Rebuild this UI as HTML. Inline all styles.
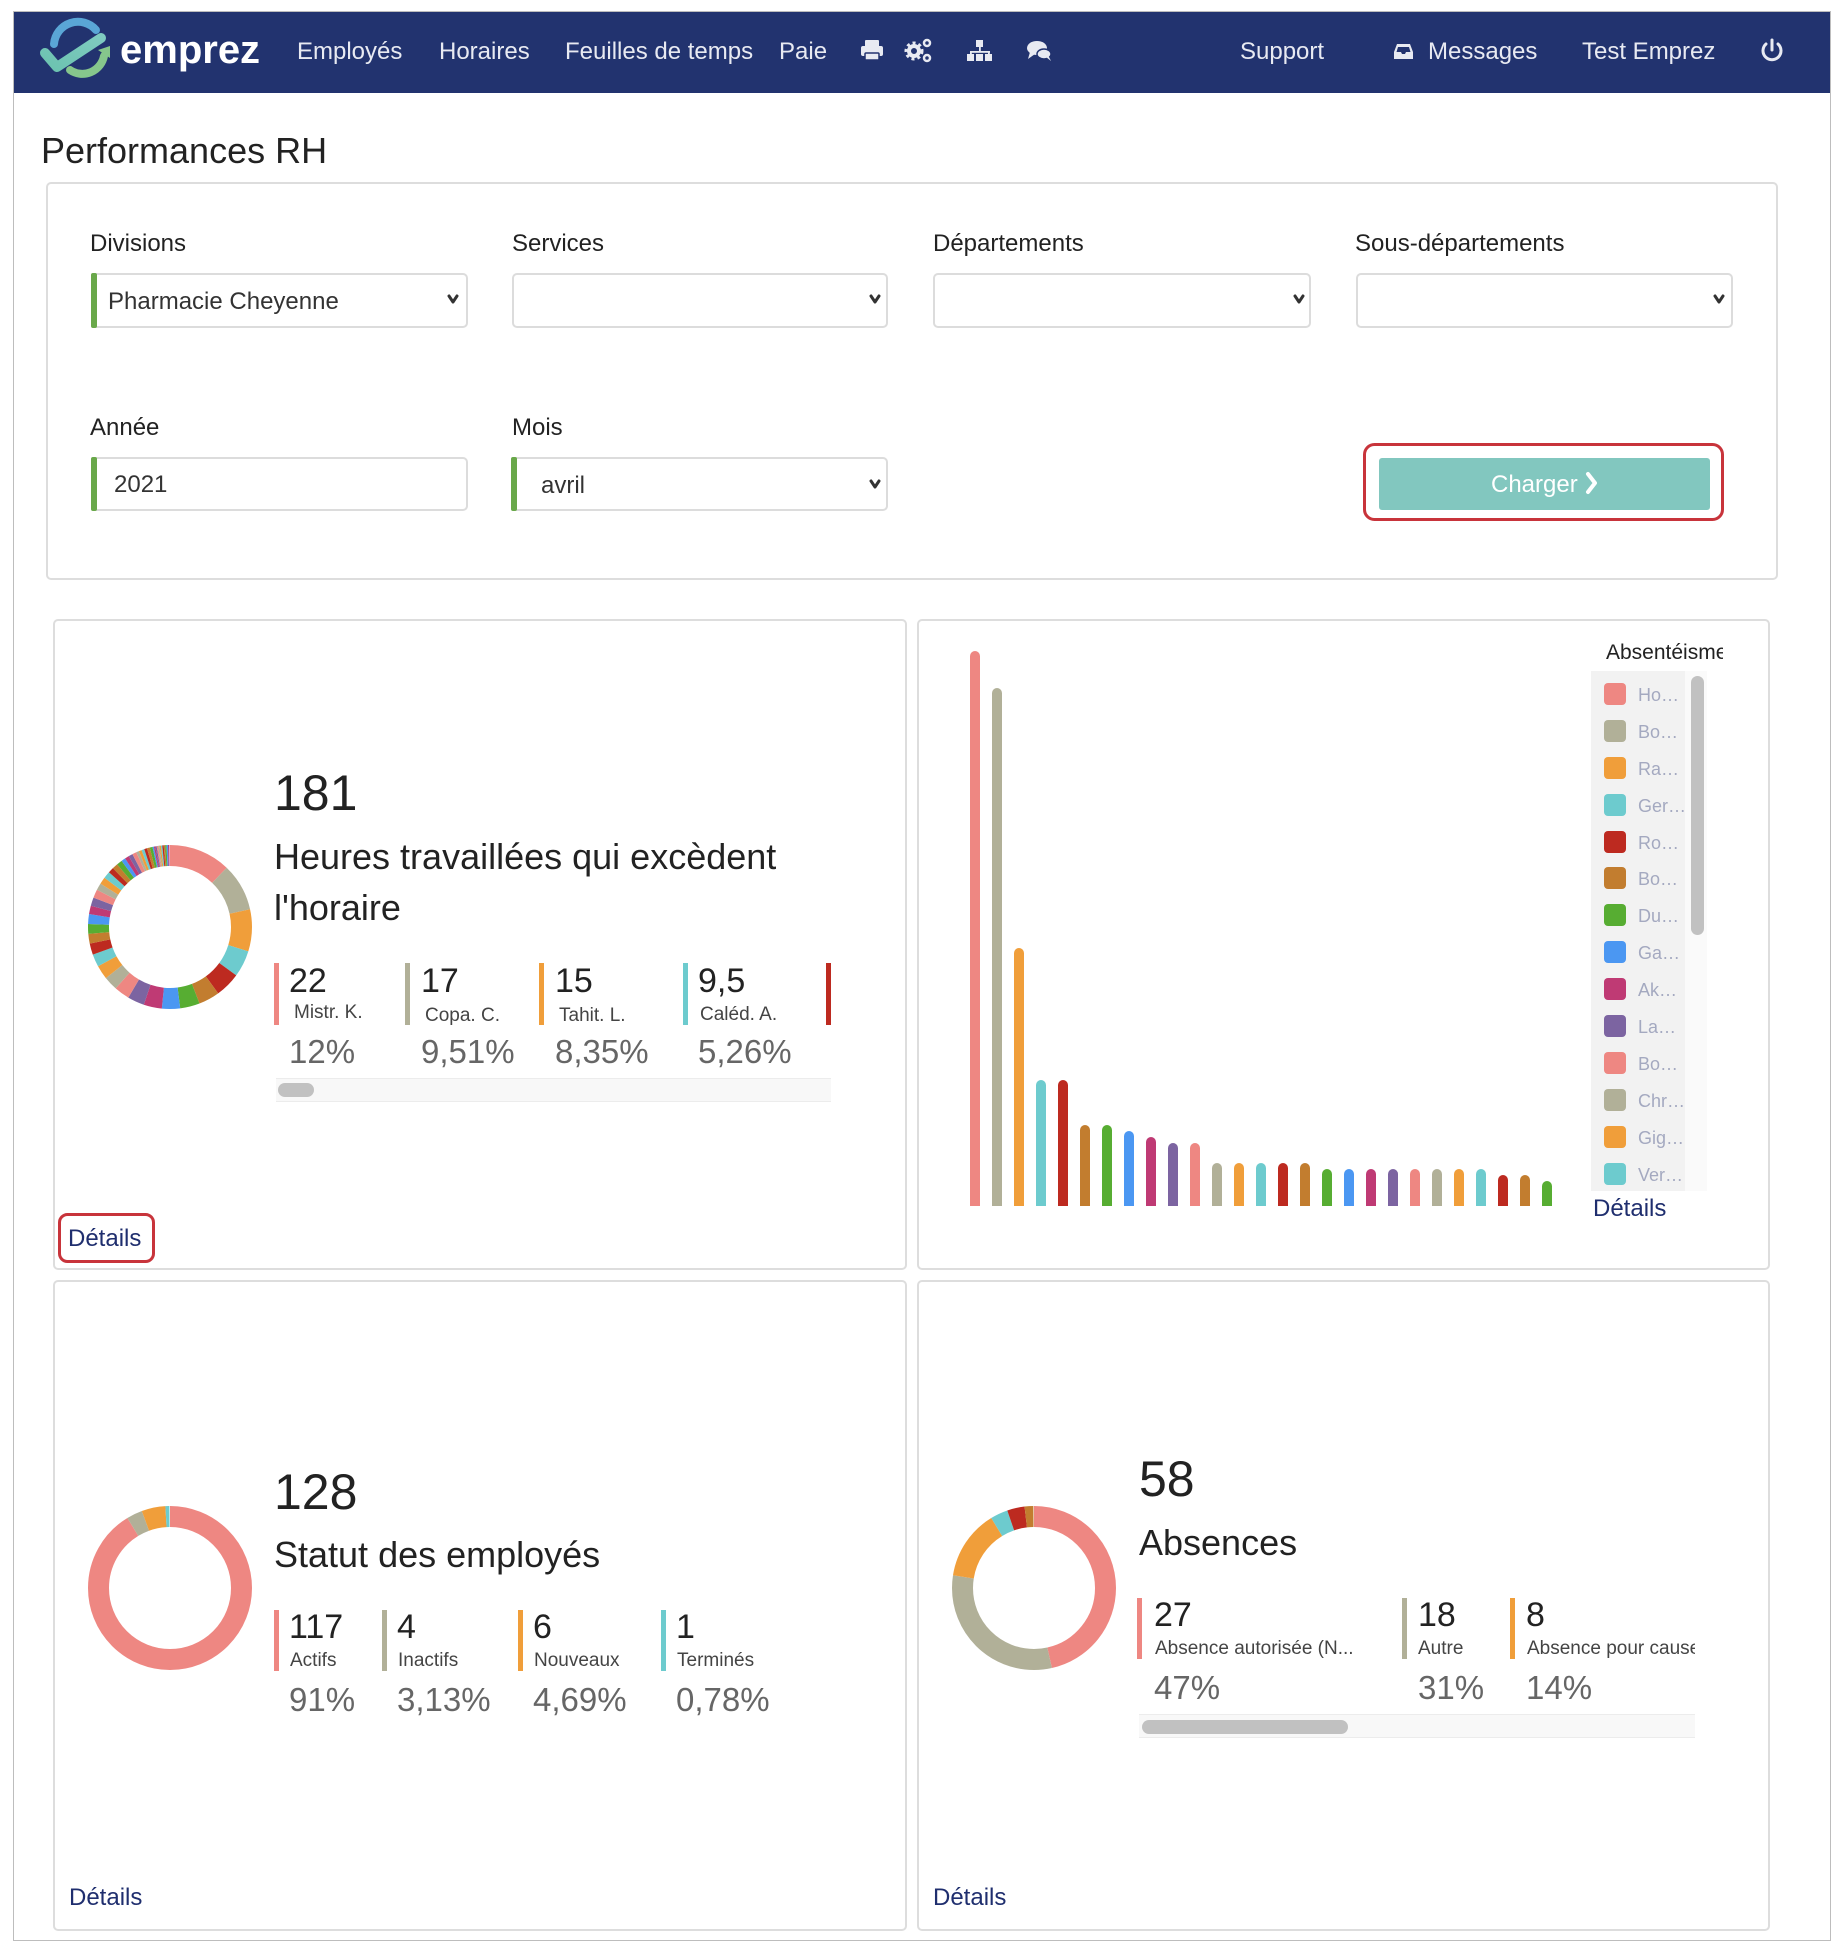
<!DOCTYPE html>
<html lang="fr">
<head>
<meta charset="utf-8">
<title>Performances RH</title>
<style>
  html,body{margin:0;padding:0;background:#fff;}
  body{width:1846px;height:1952px;overflow:hidden;}
  svg{display:block;}
  text{font-family:"Liberation Sans",Arial,sans-serif;}
</style>
</head>
<body>
<svg width="1846" height="1952" viewBox="0 0 1846 1952" xmlns="http://www.w3.org/2000/svg">
  <defs>
    <clipPath id="barsClip"><rect x="960" y="600" width="620" height="606"/></clipPath>
    <clipPath id="legTitleClip"><rect x="1590" y="630" width="133" height="40"/></clipPath>
    <clipPath id="legBoxClip"><rect x="1591" y="671" width="94" height="520"/></clipPath>
    <clipPath id="absClip"><rect x="1130" y="1590" width="565" height="130"/></clipPath>
    <linearGradient id="chk" x1="0" y1="1" x2="1" y2="0">
      <stop offset="0" stop-color="#6cc3b0"/>
      <stop offset="1" stop-color="#7fcbc0"/>
    </linearGradient>
  </defs>

  <!-- page frame -->
  <rect x="13.5" y="11.5" width="1817" height="1929" fill="#fff" stroke="#bdbdbd" stroke-width="1"/>

  <!-- NAVBAR -->
  <rect x="14" y="12" width="1816" height="81" fill="#22336f"/>
  <!-- logo -->
  <path d="M54 44 A 24 24 0 0 1 96 30" fill="none" stroke="#5aa6d6" stroke-width="8" stroke-linecap="round"/>
  <path d="M70 70 A 22 22 0 0 0 104 56" fill="none" stroke="#86c68c" stroke-width="8" stroke-linecap="round"/>
  <polygon points="98,50 110,46 110,58" fill="#86c68c"/>
  <path d="M45 53 L57 67 L101 38" fill="none" stroke="url(#chk)" stroke-width="10" stroke-linecap="round" stroke-linejoin="round"/>
  <text x="120" y="63" font-size="40" font-weight="bold" fill="#ffffff">emprez</text>

  <g fill="#e8eaf2" font-size="24">
    <text x="297" y="59">Employés</text>
    <text x="439" y="59">Horaires</text>
    <text x="565" y="59">Feuilles de temps</text>
    <text x="779" y="59">Paie</text>
    <text x="1240" y="59">Support</text>
    <text x="1428" y="59">Messages</text>
    <text x="1582" y="59">Test Emprez</text>
  </g>
  <!-- printer -->
  <g fill="#e8eaf2">
    <rect x="865" y="40" width="14" height="7" rx="1"/>
    <rect x="861" y="46" width="22" height="10" rx="2"/>
    <rect x="865" y="53" width="14" height="7" rx="1" fill="#e8eaf2" stroke="#22336f" stroke-width="1.5"/>
  </g>
  <!-- gears -->
  <g fill="none" stroke="#e8eaf2">
    <circle cx="914" cy="51" r="5" stroke-width="4"/>
    <circle cx="914" cy="51" r="8" stroke-width="3" stroke-dasharray="3 3"/>
    <circle cx="927" cy="43" r="3" stroke-width="2.5"/>
    <circle cx="927" cy="58" r="3" stroke-width="2.5"/>
  </g>
  <!-- sitemap -->
  <g fill="#e8eaf2">
    <rect x="976" y="40" width="7" height="7"/>
    <rect x="979" y="47" width="1.8" height="5"/>
    <rect x="970" y="51" width="20" height="1.8"/>
    <rect x="970" y="51" width="1.8" height="4"/>
    <rect x="988" y="51" width="1.8" height="4"/>
    <rect x="967" y="54" width="7" height="7"/>
    <rect x="976" y="54" width="7" height="7"/>
    <rect x="985" y="54" width="7" height="7"/>
  </g>
  <!-- comments -->
  <g fill="#e8eaf2">
    <ellipse cx="1037" cy="48" rx="10" ry="7"/>
    <polygon points="1030,52 1028,59 1035,54"/>
    <ellipse cx="1044" cy="54" rx="7" ry="5" stroke="#22336f" stroke-width="1.5"/>
    <polygon points="1046,57 1051,61 1048,55"/>
  </g>
  <!-- inbox -->
  <g>
    <path d="M1397 44 L1410 44 L1413 52 L1413 59 L1394 59 L1394 52 Z" fill="#e8eaf2"/>
    <path d="M1398 47 L1409 47 L1410.5 52 L1406 52 L1405 54 L1402 54 L1401 52 L1396.5 52 Z" fill="#22336f"/>
  </g>
  <!-- power -->
  <path d="M1766 44 A 9 9 0 1 0 1778 44" fill="none" stroke="#e8eaf2" stroke-width="3" stroke-linecap="round"/>
  <line x1="1772" y1="40" x2="1772" y2="50" stroke="#e8eaf2" stroke-width="3" stroke-linecap="round"/>

  <!-- TITLE -->
  <text x="41" y="163" font-size="36" fill="#222">Performances RH</text>

  <!-- FILTER PANEL -->
  <rect x="47" y="183" width="1730" height="396" rx="4" fill="#fff" stroke="#dddddd" stroke-width="2"/>
  <g font-size="24" fill="#222">
    <text x="90" y="251">Divisions</text>
    <text x="512" y="251">Services</text>
    <text x="933" y="251">Départements</text>
    <text x="1355" y="251">Sous-départements</text>
    <text x="90" y="435">Année</text>
    <text x="512" y="435">Mois</text>
  </g>
  <g fill="#fff" stroke="#dcdcdc" stroke-width="2">
    <rect x="93" y="274" width="374" height="53" rx="4"/>
    <rect x="513" y="274" width="374" height="53" rx="4"/>
    <rect x="934" y="274" width="376" height="53" rx="4"/>
    <rect x="1357" y="274" width="375" height="53" rx="4"/>
    <rect x="93" y="458" width="374" height="52" rx="4"/>
    <rect x="513" y="458" width="374" height="52" rx="4"/>
  </g>
  <g fill="#69a84a">
    <rect x="91" y="273" width="6" height="55" rx="2"/>
    <rect x="91" y="457" width="6" height="54" rx="2"/>
    <rect x="511" y="457" width="6" height="54" rx="2"/>
  </g>
  <g font-size="24" fill="#333">
    <text x="108" y="309">Pharmacie Cheyenne</text>
    <text x="114" y="492">2021</text>
    <text x="541" y="493">avril</text>
  </g>
  <g fill="none" stroke="#333" stroke-width="3" stroke-linecap="round" stroke-linejoin="round">
    <path d="M449 296 L453 302 L457 296"/>
    <path d="M871 296 L875 302 L879 296"/>
    <path d="M1295 296 L1299 302 L1303 296"/>
    <path d="M1715 296 L1719 302 L1723 296"/>
    <path d="M871 481 L875 487 L879 481"/>
  </g>
  <!-- Charger -->
  <rect x="1364.5" y="444.5" width="358" height="75" rx="10" fill="#fff" stroke="#c8343b" stroke-width="3"/>
  <rect x="1379" y="458" width="331" height="52" rx="3" fill="#82c7bf"/>
  <text x="1491" y="492" font-size="24" fill="#fff">Charger</text>
  <path d="M1588 474 L1595 483 L1588 492" fill="none" stroke="#fff" stroke-width="4" stroke-linecap="round" stroke-linejoin="round"/>

  <!-- CARDS -->
  <g fill="#fff" stroke="#dddddd" stroke-width="2">
    <rect x="54" y="620" width="852" height="649" rx="4"/>
    <rect x="918" y="620" width="851" height="649" rx="4"/>
    <rect x="54" y="1281" width="852" height="649" rx="4"/>
    <rect x="918" y="1281" width="851" height="649" rx="4"/>
  </g>

  <!-- CARD 1 donut -->
  <g transform="rotate(-90 170 927)" fill="none" stroke-width="21">
    <circle cx="170" cy="927" r="71.5" pathLength="181" stroke="#ee8782" stroke-dasharray="22 181" stroke-dashoffset="0"/>
    <circle cx="170" cy="927" r="71.5" pathLength="181" stroke="#b1b098" stroke-dasharray="17 181" stroke-dashoffset="-22"/>
    <circle cx="170" cy="927" r="71.5" pathLength="181" stroke="#f09e3a" stroke-dasharray="15 181" stroke-dashoffset="-39"/>
    <circle cx="170" cy="927" r="71.5" pathLength="181" stroke="#6dcbce" stroke-dasharray="9.5 181" stroke-dashoffset="-54"/>
    <circle cx="170" cy="927" r="71.5" pathLength="181" stroke="#bd2a20" stroke-dasharray="9 181" stroke-dashoffset="-63.5"/>
    <circle cx="170" cy="927" r="71.5" pathLength="181" stroke="#c27d2f" stroke-dasharray="7.5 181" stroke-dashoffset="-72.5"/>
    <circle cx="170" cy="927" r="71.5" pathLength="181" stroke="#57ad32" stroke-dasharray="7 181" stroke-dashoffset="-80"/>
    <circle cx="170" cy="927" r="71.5" pathLength="181" stroke="#4b97f2" stroke-dasharray="6.5 181" stroke-dashoffset="-87"/>
    <circle cx="170" cy="927" r="71.5" pathLength="181" stroke="#bf3a74" stroke-dasharray="6.5 181" stroke-dashoffset="-93.5"/>
    <circle cx="170" cy="927" r="71.5" pathLength="181" stroke="#7c64a1" stroke-dasharray="6 181" stroke-dashoffset="-100"/>
    <circle cx="170" cy="927" r="71.5" pathLength="181" stroke="#ee8782" stroke-dasharray="5.5 181" stroke-dashoffset="-106"/>
    <circle cx="170" cy="927" r="71.5" pathLength="181" stroke="#b1b098" stroke-dasharray="5 181" stroke-dashoffset="-111.5"/>
    <circle cx="170" cy="927" r="71.5" pathLength="181" stroke="#f09e3a" stroke-dasharray="5 181" stroke-dashoffset="-116.5"/>
    <circle cx="170" cy="927" r="71.5" pathLength="181" stroke="#6dcbce" stroke-dasharray="4.5 181" stroke-dashoffset="-121.5"/>
    <circle cx="170" cy="927" r="71.5" pathLength="181" stroke="#bd2a20" stroke-dasharray="4 181" stroke-dashoffset="-126"/>
    <circle cx="170" cy="927" r="71.5" pathLength="181" stroke="#c27d2f" stroke-dasharray="3.5 181" stroke-dashoffset="-130"/>
    <circle cx="170" cy="927" r="71.5" pathLength="181" stroke="#57ad32" stroke-dasharray="3.5 181" stroke-dashoffset="-133.5"/>
    <circle cx="170" cy="927" r="71.5" pathLength="181" stroke="#4b97f2" stroke-dasharray="3.5 181" stroke-dashoffset="-137"/>
    <circle cx="170" cy="927" r="71.5" pathLength="181" stroke="#bf3a74" stroke-dasharray="3 181" stroke-dashoffset="-140.5"/>
    <circle cx="170" cy="927" r="71.5" pathLength="181" stroke="#7c64a1" stroke-dasharray="3 181" stroke-dashoffset="-143.5"/>
    <circle cx="170" cy="927" r="71.5" pathLength="181" stroke="#ee8782" stroke-dasharray="3 181" stroke-dashoffset="-146.5"/>
    <circle cx="170" cy="927" r="71.5" pathLength="181" stroke="#b1b098" stroke-dasharray="2.5 181" stroke-dashoffset="-149.5"/>
    <circle cx="170" cy="927" r="71.5" pathLength="181" stroke="#f09e3a" stroke-dasharray="2.5 181" stroke-dashoffset="-152"/>
    <circle cx="170" cy="927" r="71.5" pathLength="181" stroke="#6dcbce" stroke-dasharray="2.5 181" stroke-dashoffset="-154.5"/>
    <circle cx="170" cy="927" r="71.5" pathLength="181" stroke="#bd2a20" stroke-dasharray="2 181" stroke-dashoffset="-157"/>
    <circle cx="170" cy="927" r="71.5" pathLength="181" stroke="#c27d2f" stroke-dasharray="2 181" stroke-dashoffset="-159"/>
    <circle cx="170" cy="927" r="71.5" pathLength="181" stroke="#57ad32" stroke-dasharray="2 181" stroke-dashoffset="-161"/>
    <circle cx="170" cy="927" r="71.5" pathLength="181" stroke="#4b97f2" stroke-dasharray="1.5 181" stroke-dashoffset="-163"/>
    <circle cx="170" cy="927" r="71.5" pathLength="181" stroke="#bf3a74" stroke-dasharray="1.5 181" stroke-dashoffset="-164.5"/>
    <circle cx="170" cy="927" r="71.5" pathLength="181" stroke="#7c64a1" stroke-dasharray="1.5 181" stroke-dashoffset="-166"/>
    <circle cx="170" cy="927" r="71.5" pathLength="181" stroke="#ee8782" stroke-dasharray="1.5 181" stroke-dashoffset="-167.5"/>
    <circle cx="170" cy="927" r="71.5" pathLength="181" stroke="#b1b098" stroke-dasharray="1 181" stroke-dashoffset="-169"/>
    <circle cx="170" cy="927" r="71.5" pathLength="181" stroke="#f09e3a" stroke-dasharray="1 181" stroke-dashoffset="-170"/>
    <circle cx="170" cy="927" r="71.5" pathLength="181" stroke="#6dcbce" stroke-dasharray="1 181" stroke-dashoffset="-171"/>
    <circle cx="170" cy="927" r="71.5" pathLength="181" stroke="#bd2a20" stroke-dasharray="1 181" stroke-dashoffset="-172"/>
    <circle cx="170" cy="927" r="71.5" pathLength="181" stroke="#c27d2f" stroke-dasharray="1 181" stroke-dashoffset="-173"/>
    <circle cx="170" cy="927" r="71.5" pathLength="181" stroke="#57ad32" stroke-dasharray="1 181" stroke-dashoffset="-174"/>
    <circle cx="170" cy="927" r="71.5" pathLength="181" stroke="#4b97f2" stroke-dasharray="0.5 181" stroke-dashoffset="-175"/>
    <circle cx="170" cy="927" r="71.5" pathLength="181" stroke="#bf3a74" stroke-dasharray="0.5 181" stroke-dashoffset="-175.5"/>
    <circle cx="170" cy="927" r="71.5" pathLength="181" stroke="#7c64a1" stroke-dasharray="0.5 181" stroke-dashoffset="-176"/>
    <circle cx="170" cy="927" r="71.5" pathLength="181" stroke="#ee8782" stroke-dasharray="0.5 181" stroke-dashoffset="-176.5"/>
    <circle cx="170" cy="927" r="71.5" pathLength="181" stroke="#b1b098" stroke-dasharray="0.5 181" stroke-dashoffset="-177"/>
    <circle cx="170" cy="927" r="71.5" pathLength="181" stroke="#f09e3a" stroke-dasharray="0.5 181" stroke-dashoffset="-177.5"/>
    <circle cx="170" cy="927" r="71.5" pathLength="181" stroke="#6dcbce" stroke-dasharray="0.5 181" stroke-dashoffset="-178"/>
    <circle cx="170" cy="927" r="71.5" pathLength="181" stroke="#bd2a20" stroke-dasharray="0.5 181" stroke-dashoffset="-178.5"/>
    <circle cx="170" cy="927" r="71.5" pathLength="181" stroke="#c27d2f" stroke-dasharray="0.5 181" stroke-dashoffset="-179"/>
    <circle cx="170" cy="927" r="71.5" pathLength="181" stroke="#57ad32" stroke-dasharray="0.5 181" stroke-dashoffset="-179.5"/>
    <circle cx="170" cy="927" r="71.5" pathLength="181" stroke="#4b97f2" stroke-dasharray="0.5 181" stroke-dashoffset="-180"/>
    <circle cx="170" cy="927" r="71.5" pathLength="181" stroke="#bf3a74" stroke-dasharray="0.5 181" stroke-dashoffset="-180.5"/>
  </g>
  <text x="274" y="810" font-size="50" fill="#222">181</text>
  <text x="274" y="869" font-size="36" fill="#222">Heures travaillées qui excèdent</text>
  <text x="274" y="920" font-size="36" fill="#222">l'horaire</text>
  <g>
    <rect x="274" y="963" width="5" height="62" fill="#ee8782"/>
    <rect x="405" y="963" width="5" height="62" fill="#b1b098"/>
    <rect x="539" y="963" width="5" height="62" fill="#f09e3a"/>
    <rect x="683" y="963" width="5" height="62" fill="#6dcbce"/>
    <rect x="826" y="963" width="5" height="62" fill="#bd2a20"/>
  </g>
  <g font-size="34" fill="#222">
    <text x="289" y="992">22</text>
    <text x="421" y="992">17</text>
    <text x="555" y="992">15</text>
    <text x="698" y="992">9,5</text>
  </g>
  <g font-size="19" fill="#444">
    <text x="294" y="1018">Mistr. K.</text>
    <text x="425" y="1021">Copa. C.</text>
    <text x="559" y="1021">Tahit. L.</text>
    <text x="700" y="1020">Caléd. A.</text>
  </g>
  <g font-size="33" fill="#666">
    <text x="289" y="1063">12%</text>
    <text x="421" y="1063">9,51%</text>
    <text x="555" y="1063">8,35%</text>
    <text x="698" y="1063">5,26%</text>
  </g>
  <rect x="276" y="1078" width="555" height="24" fill="#f8f8f8"/>
  <line x1="276" y1="1078.5" x2="831" y2="1078.5" stroke="#ececec"/>
  <line x1="276" y1="1101.5" x2="831" y2="1101.5" stroke="#ececec"/>
  <rect x="278" y="1083" width="36" height="14" rx="7" fill="#c1c1c1"/>
  <rect x="59.5" y="1214.5" width="94" height="47" rx="8" fill="#fff" stroke="#c8343b" stroke-width="3"/>
  <text x="68" y="1246" font-size="24" fill="#1f2e6e">Détails</text>

  <!-- CARD 2 bar chart -->
  <g clip-path="url(#barsClip)">
    <rect x="970" y="651" width="10" height="565" rx="5" fill="#ee8782"/>
    <rect x="992" y="688" width="10" height="528" rx="5" fill="#b1b098"/>
    <rect x="1014" y="948" width="10" height="268" rx="5" fill="#f09e3a"/>
    <rect x="1036" y="1080" width="10" height="136" rx="5" fill="#6dcbce"/>
    <rect x="1058" y="1080" width="10" height="136" rx="5" fill="#bd2a20"/>
    <rect x="1080" y="1125" width="10" height="91" rx="5" fill="#c27d2f"/>
    <rect x="1102" y="1125" width="10" height="91" rx="5" fill="#57ad32"/>
    <rect x="1124" y="1131" width="10" height="85" rx="5" fill="#4b97f2"/>
    <rect x="1146" y="1137" width="10" height="79" rx="5" fill="#bf3a74"/>
    <rect x="1168" y="1143" width="10" height="73" rx="5" fill="#7c64a1"/>
    <rect x="1190" y="1143" width="10" height="73" rx="5" fill="#ee8782"/>
    <rect x="1212" y="1163" width="10" height="53" rx="5" fill="#b1b098"/>
    <rect x="1234" y="1163" width="10" height="53" rx="5" fill="#f09e3a"/>
    <rect x="1256" y="1163" width="10" height="53" rx="5" fill="#6dcbce"/>
    <rect x="1278" y="1163" width="10" height="53" rx="5" fill="#bd2a20"/>
    <rect x="1300" y="1163" width="10" height="53" rx="5" fill="#c27d2f"/>
    <rect x="1322" y="1169" width="10" height="47" rx="5" fill="#57ad32"/>
    <rect x="1344" y="1169" width="10" height="47" rx="5" fill="#4b97f2"/>
    <rect x="1366" y="1169" width="10" height="47" rx="5" fill="#bf3a74"/>
    <rect x="1388" y="1169" width="10" height="47" rx="5" fill="#7c64a1"/>
    <rect x="1410" y="1169" width="10" height="47" rx="5" fill="#ee8782"/>
    <rect x="1432" y="1169" width="10" height="47" rx="5" fill="#b1b098"/>
    <rect x="1454" y="1169" width="10" height="47" rx="5" fill="#f09e3a"/>
    <rect x="1476" y="1169" width="10" height="47" rx="5" fill="#6dcbce"/>
    <rect x="1498" y="1175" width="10" height="41" rx="5" fill="#bd2a20"/>
    <rect x="1520" y="1175" width="10" height="41" rx="5" fill="#c27d2f"/>
    <rect x="1542" y="1181" width="10" height="35" rx="5" fill="#57ad32"/>
  </g>
  <!-- legend -->
  <text x="1606" y="659" font-size="21" fill="#222" clip-path="url(#legTitleClip)">Absentéisme</text>
  <rect x="1591" y="671" width="94" height="520" fill="#f2f2f2"/>
  <rect x="1685" y="671" width="22" height="520" fill="#fafafa"/>
  <rect x="1691" y="676" width="13" height="259" rx="6.5" fill="#c1c1c1"/>
  <g clip-path="url(#legBoxClip)">
    <rect x="1604" y="683" width="22" height="22" rx="4" fill="#ee8782"/>
    <rect x="1604" y="720" width="22" height="22" rx="4" fill="#b1b098"/>
    <rect x="1604" y="757" width="22" height="22" rx="4" fill="#f09e3a"/>
    <rect x="1604" y="794" width="22" height="22" rx="4" fill="#6dcbce"/>
    <rect x="1604" y="831" width="22" height="22" rx="4" fill="#bd2a20"/>
    <rect x="1604" y="867" width="22" height="22" rx="4" fill="#c27d2f"/>
    <rect x="1604" y="904" width="22" height="22" rx="4" fill="#57ad32"/>
    <rect x="1604" y="941" width="22" height="22" rx="4" fill="#4b97f2"/>
    <rect x="1604" y="978" width="22" height="22" rx="4" fill="#bf3a74"/>
    <rect x="1604" y="1015" width="22" height="22" rx="4" fill="#7c64a1"/>
    <rect x="1604" y="1052" width="22" height="22" rx="4" fill="#ee8782"/>
    <rect x="1604" y="1089" width="22" height="22" rx="4" fill="#b1b098"/>
    <rect x="1604" y="1126" width="22" height="22" rx="4" fill="#f09e3a"/>
    <rect x="1604" y="1163" width="22" height="22" rx="4" fill="#6dcbce"/>
    <g font-size="18" fill="#a4a9c0">
      <text x="1638" y="701">Ho…</text>
      <text x="1638" y="738">Bo…</text>
      <text x="1638" y="775">Ra…</text>
      <text x="1638" y="812">Ger…</text>
      <text x="1638" y="849">Ro…</text>
      <text x="1638" y="885">Bo…</text>
      <text x="1638" y="922">Du…</text>
      <text x="1638" y="959">Ga…</text>
      <text x="1638" y="996">Ak…</text>
      <text x="1638" y="1033">La…</text>
      <text x="1638" y="1070">Bo…</text>
      <text x="1638" y="1107">Chr…</text>
      <text x="1638" y="1144">Gig…</text>
      <text x="1638" y="1181">Ver…</text>
    </g>
  </g>
  <text x="1593" y="1216" font-size="24" fill="#1f2e6e">Détails</text>

  <!-- CARD 3 donut -->
  <g transform="rotate(-90 170 1588)" fill="none" stroke-width="21">
    <circle cx="170" cy="1588" r="71.5" pathLength="128" stroke="#ee8782" stroke-dasharray="117 128" stroke-dashoffset="0"/>
    <circle cx="170" cy="1588" r="71.5" pathLength="128" stroke="#b1b098" stroke-dasharray="4 128" stroke-dashoffset="-117"/>
    <circle cx="170" cy="1588" r="71.5" pathLength="128" stroke="#f09e3a" stroke-dasharray="6 128" stroke-dashoffset="-121"/>
    <circle cx="170" cy="1588" r="71.5" pathLength="128" stroke="#6dcbce" stroke-dasharray="1 128" stroke-dashoffset="-127"/>
  </g>
  <text x="274" y="1509" font-size="50" fill="#222">128</text>
  <text x="274" y="1567" font-size="36" fill="#222">Statut des employés</text>
  <g>
    <rect x="274" y="1610" width="5" height="61" fill="#ee8782"/>
    <rect x="382" y="1610" width="5" height="61" fill="#b1b098"/>
    <rect x="518" y="1610" width="5" height="61" fill="#f09e3a"/>
    <rect x="661" y="1610" width="5" height="61" fill="#6dcbce"/>
  </g>
  <g font-size="34" fill="#222">
    <text x="289" y="1638">117</text>
    <text x="397" y="1638">4</text>
    <text x="533" y="1638">6</text>
    <text x="676" y="1638">1</text>
  </g>
  <g font-size="19" fill="#444">
    <text x="290" y="1666">Actifs</text>
    <text x="398" y="1666">Inactifs</text>
    <text x="534" y="1666">Nouveaux</text>
    <text x="677" y="1666">Terminés</text>
  </g>
  <g font-size="33" fill="#666">
    <text x="289" y="1711">91%</text>
    <text x="397" y="1711">3,13%</text>
    <text x="533" y="1711">4,69%</text>
    <text x="676" y="1711">0,78%</text>
  </g>
  <text x="69" y="1905" font-size="24" fill="#1f2e6e">Détails</text>

  <!-- CARD 4 donut -->
  <g transform="rotate(-90 1034 1588)" fill="none" stroke-width="21">
    <circle cx="1034" cy="1588" r="71.5" pathLength="58" stroke="#ee8782" stroke-dasharray="27 58" stroke-dashoffset="0"/>
    <circle cx="1034" cy="1588" r="71.5" pathLength="58" stroke="#b1b098" stroke-dasharray="18 58" stroke-dashoffset="-27"/>
    <circle cx="1034" cy="1588" r="71.5" pathLength="58" stroke="#f09e3a" stroke-dasharray="8 58" stroke-dashoffset="-45"/>
    <circle cx="1034" cy="1588" r="71.5" pathLength="58" stroke="#6dcbce" stroke-dasharray="2 58" stroke-dashoffset="-53"/>
    <circle cx="1034" cy="1588" r="71.5" pathLength="58" stroke="#bd2a20" stroke-dasharray="2 58" stroke-dashoffset="-55"/>
    <circle cx="1034" cy="1588" r="71.5" pathLength="58" stroke="#c27d2f" stroke-dasharray="1 58" stroke-dashoffset="-57"/>
  </g>
  <text x="1139" y="1496" font-size="50" fill="#222">58</text>
  <text x="1139" y="1555" font-size="36" fill="#222">Absences</text>
  <g clip-path="url(#absClip)">
    <rect x="1137" y="1598" width="5" height="61" fill="#ee8782"/>
    <rect x="1402" y="1598" width="5" height="61" fill="#b1b098"/>
    <rect x="1510" y="1598" width="5" height="61" fill="#f09e3a"/>
    <g font-size="34" fill="#222">
      <text x="1154" y="1626">27</text>
      <text x="1418" y="1626">18</text>
      <text x="1526" y="1626">8</text>
    </g>
    <g font-size="19" fill="#444">
      <text x="1155" y="1654">Absence autorisée (N...</text>
      <text x="1418" y="1654">Autre</text>
      <text x="1527" y="1654">Absence pour cause</text>
    </g>
    <g font-size="33" fill="#666">
      <text x="1154" y="1699">47%</text>
      <text x="1418" y="1699">31%</text>
      <text x="1526" y="1699">14%</text>
    </g>
  </g>
  <rect x="1139" y="1714" width="556" height="24" fill="#f8f8f8"/>
  <line x1="1139" y1="1714.5" x2="1695" y2="1714.5" stroke="#ececec"/>
  <line x1="1139" y1="1737.5" x2="1695" y2="1737.5" stroke="#ececec"/>
  <rect x="1142" y="1720" width="206" height="14" rx="7" fill="#c1c1c1"/>
  <text x="933" y="1905" font-size="24" fill="#1f2e6e">Détails</text>
</svg>
</body>
</html>
